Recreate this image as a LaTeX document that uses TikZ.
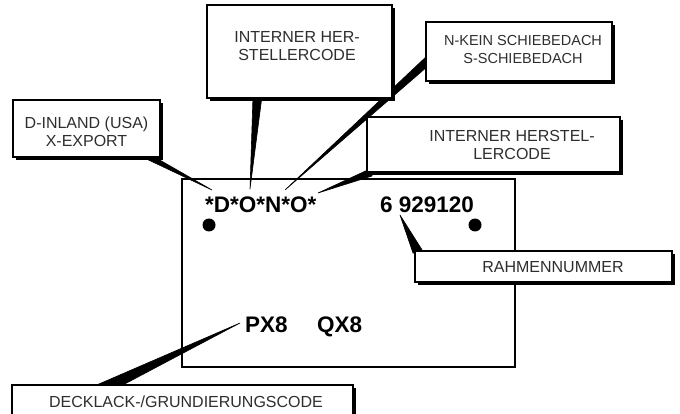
\documentclass[tikz,border=0pt]{standalone}
\usepackage{fontspec}
\setmainfont{Liberation Sans}
\usetikzlibrary{calc}
\newcommand{\labelbox}[4]{%
  \fill[black] ($(#2)+(-0.5*#3+3pt,-0.5*#4-3pt)$) rectangle ($(#2)+(0.5*#3+3pt,0.5*#4-3pt)$);
  \node[box, minimum width=#3, minimum height=#4] (#1) at (#2) {};}
\begin{document}
\begin{tikzpicture}[x=1pt,y=-1pt,
  plate/.style={draw=black, line width=1.8pt, fill=white, inner sep=0pt},
  box/.style={draw=black, line width=1.2pt, fill=white, inner sep=0pt},
  lbl/.style={font=\fontsize{16}{18}\selectfont, align=center, text=black!82, inner sep=0pt},
  code/.style={font=\fontsize{22.5}{24}\selectfont\bfseries, text=black, inner sep=0pt, anchor=base west},
  wedge/.style={fill=black, draw=black, line width=0.6pt, line join=round},
  dot/.style={circle, fill=black, minimum size=13pt, inner sep=0pt}]
\useasboundingbox (0,0) rectangle (680,414);
\clip (0,0) rectangle (680,414);
\fill[white] (0,0) rectangle (680,414);

% plate
\node[plate, minimum width=333pt, minimum height=188pt] (plate) at (348.5,273) {};

% codes on the plate
\node[code] (c1) at (205,213) {*D*O*N*O*};
\node[code] (c2) at (380,213) {6 929120};
\node[code] (c3) at (245,332) {PX8};
\node[code] (c4) at (317,332) {QX8};
\node[dot] (d1) at (209,225) {};
\node[dot] (d2) at (475,225) {};

% box positions
\path (86.5,128.5) coordinate (b1c)
      (299.5,51.5) coordinate (b2c)
      (519,51.5) coordinate (b3c)
      (493.5,144.5) coordinate (b4c)
      (543.5,266.5) coordinate (b5c)
      (182.5,407.5) coordinate (b6c);

% wedges (leaders)
\coordinate (w1a) at ($(b1c)+(51.5,26.5)$);
\coordinate (w1b) at ($(b1c)+(64.5,26.5)$);
\coordinate (t1) at ($(c1.base west)+(7,-23)$);
\fill[wedge] (t1) -- (w1a) -- (w1b) -- cycle;

\coordinate (w2a) at ($(b2c)+(-46.5,44.5)$);
\coordinate (w2b) at ($(b2c)+(-37.5,44.5)$);
\coordinate (t2) at ($(c1.base west)+(45,-24)$);
\fill[wedge] (t2) -- (w2a) -- (w2b) -- cycle;

\coordinate (w3a) at ($(b3c)+(-91,3.5)$);
\coordinate (w3b) at ($(b3c)+(-91,14.5)$);
\coordinate (t3) at ($(c1.base west)+(80,-23)$);
\fill[wedge] (t3) -- (w3a) -- (w3b) -- cycle;

\coordinate (w4a) at ($(b4c)+(-121.5,23.5)$);
\coordinate (w4b) at ($(b4c)+(-121.5,31.5)$);
\coordinate (t4) at ($(c1.base west)+(113,-20)$);
\fill[wedge] (t4) -- (w4a) -- (w4b) -- cycle;

\coordinate (w5a) at ($(b5c)+(-130.5,-13.5)$);
\coordinate (w5b) at ($(b5c)+(-119.5,-13.5)$);
\coordinate (t5) at ($(c2.base west)+(20,2)$);
\fill[wedge] (t5) -- (w5a) -- (w5b) -- cycle;

\coordinate (w6a) at ($(b6c)+(-90.5,-20.5)$);
\coordinate (w6b) at ($(b6c)+(-63.5,-20.5)$);
\coordinate (t6) at ($(c3.base west)+(-5,-9)$);
\fill[wedge] (t6) -- (w6a) -- (w6b) -- cycle;

% boxes
\labelbox{b1}{b1c}{147pt}{57pt}
\labelbox{b2}{b2c}{185pt}{93pt}
\labelbox{b3}{b3c}{186pt}{59pt}
\labelbox{b4}{b4c}{253pt}{55pt}
\labelbox{b5}{b5c}{257pt}{31pt}
\labelbox{b6}{b6c}{341pt}{45pt}

% labels
\node[lbl] (l1) at (86.5,132) {D-INLAND (USA)\\X-EXPORT};
\node[lbl] (l2) at (297,46.5) {INTERNER HER-\\STELLERCODE};
\node[lbl, font=\fontsize{14.5}{18}\selectfont] (l3) at (523,50) {N-KEIN SCHIEBEDACH\\S-SCHIEBEDACH};
\node[lbl] (l4) at (512,145) {INTERNER HERSTEL-\\LERCODE};
\node[lbl] (l5) at (553,267) {RAHMENNUMMER};
\node[lbl] (l6) at (186,402) {DECKLACK-/GRUNDIERUNGSCODE};
\end{tikzpicture}
\end{document}
